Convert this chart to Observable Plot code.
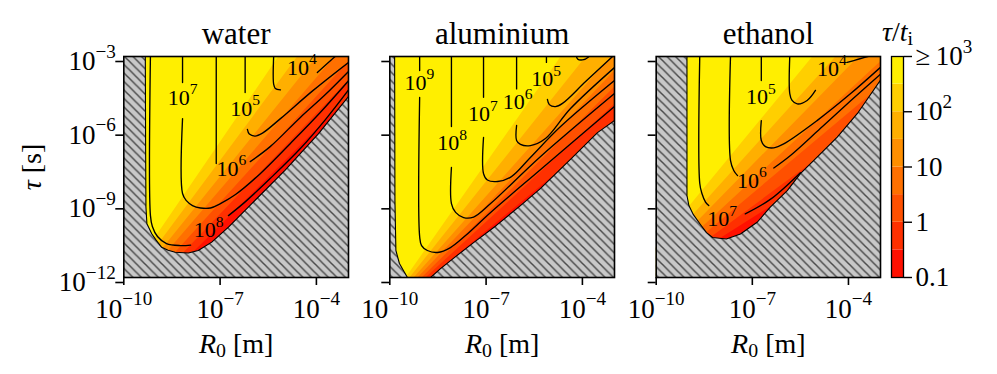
<!DOCTYPE html>
<html><head><meta charset="utf-8">
<script src="https://cdn.jsdelivr.net/npm/d3@7"></script>
<script src="https://cdn.jsdelivr.net/npm/@observablehq/plot@0.6"></script>
<style>
body{margin:0;background:#fff;}
#chart{position:relative;width:997px;height:374px;overflow:hidden;font-family:"Liberation Serif","Times New Roman",serif;}
#chart text{font-family:"Liberation Serif","Times New Roman",serif;}
</style></head><body><div id="chart"></div>
<script>
// ---------------- data (values are log10 R0 [m], log10 tau [s]) ----------------
const panelNames = ["water", "aluminium", "ethanol"];
const xDomain = [1e-10, 1e-3];
const yDomain = [1e-12, 1e-3];
const xTicks = [1e-10, 1e-7, 1e-4];
const yTicks = [1e-12, 1e-9, 1e-6, 1e-3];
// filled-contour levels of tau/t_i (half decades)
const levels = [0.1, 0.316, 1, 3.16, 10, 31.6, 100, 316, 1000];
const cbarTicks = [0.1, 1, 10, 100, 1000];
const cbarTickLabels = ["0.1", "1", "10", "10^2", "\u2265\u200910^3"];

// edges of the filled bands (level 10^-0.5 ... 10^2.5), each [bottom point, top point]
const waterBandEdges = [
  [[-8.11,-11.31],[-1.73,-3]], [[-8.39,-11.31],[-2.31,-3]], [[-8.64,-11.31],[-2.88,-3]],
  [[-8.90,-11.31],[-3.44,-3]], [[-9.11,-11.31],[-4.00,-3]], [[-9.32,-11.31],[-4.60,-3]],
  [[-9.53,-11.31],[-5.19,-3]]
];
const aluBandEdges = [
  [[-8.76,-12],[-0.44,-3]], [[-8.89,-12],[-1.41,-3]], [[-9.01,-12],[-2.06,-3]],
  [[-9.14,-12],[-2.59,-3]], [[-9.26,-12],[-3.12,-3]], [[-9.39,-12],[-3.90,-3]],
  [[-9.51,-12],[-4.68,-3]]
];
const ethBandEdges = [
  [[-8.62,-10.90],[0.92,-3]], [[-8.87,-10.90],[-0.67,-3]], [[-9.12,-10.90],[-1.91,-3]],
  [[-9.37,-10.90],[-2.85,-3]], [[-9.62,-10.90],[-3.69,-3]], [[-9.87,-10.90],[-4.41,-3]],
  [[-10.12,-10.90],[-5.13,-3]]
];

// edge of the valid (non-hatched) region
const waterBoundary = [[-9.33,-2.9],[-9.32,-6.83],[-9.31,-9.14],[-9.28,-9.81],[-9.13,-10.22],[-9.00,-10.47],[-8.82,-10.77],[-8.62,-10.89],[-8.40,-10.97],[-7.99,-11.00],[-7.68,-10.90],[-7.26,-10.56],[-6.74,-9.95],[-6.02,-9.00],[-4.98,-7.64],[-3.94,-6.15],[-2.95,-4.55]];
const aluBoundary = [[-9.85,-2.9],[-9.84,-8.87],[-9.81,-10.90],[-9.70,-11.43],[-9.54,-11.80],[-9.45,-12.0],[-9.39,-12.33],[-8.86,-12.33],[-8.73,-12.0],[-8.42,-11.64],[-7.95,-11.15],[-7.39,-10.58],[-6.68,-9.88],[-5.93,-9.07],[-5.31,-8.38],[-4.34,-7.15],[-3.53,-6.10],[-3.00,-5.61],[-2.94,-5.55]];
const ethBoundary = [[-9.04,-2.9],[-9.04,-8.66],[-8.98,-9.07],[-8.84,-9.44],[-8.62,-9.84],[-8.43,-10.17],[-8.24,-10.37],[-7.81,-10.43],[-7.37,-10.23],[-6.84,-9.74],[-6.44,-9.13],[-5.91,-8.46],[-5.50,-7.77],[-4.97,-7.09],[-4.35,-6.28],[-3.72,-5.32],[-3.01,-3.98],[-2.94,-3.86]];

// line contours: [label, segment, segment...]
const waterContours = [
  ["10^8", [[-9.17,-2.95],[-9.17,-9.48],[-9.11,-9.92],[-8.95,-10.33],[-8.67,-10.62],[-8.24,-10.70],[-7.92,-10.68]],
           [[-6.74,-9.48],[-6.21,-8.91],[-5.44,-7.97],[-4.50,-6.75],[-3.72,-5.57],[-2.94,-4.26]]],
  ["10^7", [[-8.17,-2.95],[-8.17,-4.06]],
           [[-8.17,-5.53],[-8.17,-8.58],[-8.05,-8.87],[-7.86,-9.07],[-7.61,-9.17],[-7.30,-9.17],[-6.99,-8.99],[-6.52,-8.62],[-5.75,-7.77],[-4.81,-6.54],[-3.88,-5.28],[-2.94,-3.90]]],
  ["10^6", [[-7.12,-2.95],[-7.12,-7.36]],
           [[-6.06,-7.28],[-5.44,-6.67],[-4.50,-5.48],[-3.72,-4.55],[-2.94,-3.53]]],
  ["10^5", [[-6.22,-2.95],[-6.22,-4.47]],
           [[-6.15,-5.97],[-6.09,-6.16],[-5.91,-6.24],[-5.68,-6.12],[-5.12,-5.53],[-4.10,-4.38],[-2.94,-3.18]]],
  ["10^4", [[-5.33,-2.95],[-5.33,-4.14],[-5.28,-4.30],[-5.12,-4.36]],
           [[-3.97,-3.65],[-3.38,-2.96],[-3.35,-2.93]]]
];
const aluContours = [
  ["10^9", [[-9.07,-2.95],[-9.07,-3.57]],
           [[-9.07,-4.67],[-9.07,-10.33],[-9.01,-10.70],[-8.83,-10.90],[-8.51,-10.98],[-8.11,-10.78],[-7.64,-10.29],[-6.86,-9.35],[-5.31,-7.61],[-2.94,-4.97]]],
  ["10^8", [[-8.08,-2.95],[-8.08,-5.85]],
           [[-8.08,-7.52],[-8.08,-8.99],[-7.95,-9.35],[-7.70,-9.56],[-7.39,-9.54],[-6.86,-8.99],[-5.31,-7.08],[-2.94,-4.44]]],
  ["10^7", [[-7.08,-2.95],[-7.08,-4.66]],
           [[-7.08,-6.30],[-7.08,-7.77],[-6.96,-8.03],[-6.64,-8.09],[-6.21,-7.89],[-5.62,-7.11],[-4.68,-5.85],[-2.94,-3.91]]],
  ["10^6", [[-6.05,-2.95],[-6.05,-4.32]],
           [[-6.05,-5.81],[-6.05,-6.42],[-5.93,-6.58],[-5.62,-6.63],[-5.15,-6.34],[-4.37,-5.12],[-2.94,-3.38]]],
  ["10^5", [[-5.12,-2.95],[-5.12,-3.24]],
           [[-5.09,-4.75],[-5.03,-4.96],[-4.84,-5.04],[-4.62,-4.91],[-3.90,-4.02],[-3.06,-3.0],[-2.94,-2.86]]],
  ["10^4", [[-4.20,-2.9],[-4.15,-3.10],[-4.00,-3.14],[-3.81,-3.02],[-3.75,-2.9]]]
];
const ethContours = [
  ["10^7", [[-8.64,-2.95],[-8.64,-8.17],[-8.57,-8.59],[-8.46,-8.93],[-8.36,-9.07]],
           [[-7.22,-9.41],[-6.44,-8.82],[-5.50,-7.73]]],
  ["10^6", [[-7.68,-2.95],[-7.68,-7.24],[-7.58,-7.64],[-7.46,-7.85]],
           [[-6.33,-7.54],[-5.81,-7.03],[-4.88,-5.93],[-3.94,-4.81],[-2.94,-3.65]]],
  ["10^5", [[-6.72,-2.95],[-6.72,-3.98]],
           [[-6.72,-5.61],[-6.72,-6.42],[-6.59,-6.67],[-6.33,-6.72],[-6.02,-6.56],[-4.98,-5.61],[-3.94,-4.52],[-2.94,-3.37]]],
  ["10^4", [[-5.83,-2.95],[-5.83,-4.52],[-5.76,-4.79],[-5.60,-4.93],[-5.29,-4.79],[-5.03,-4.38]],
           [[-4.04,-3.24],[-3.32,-2.96],[-3.28,-2.93]]]
];
// inline contour labels: [text, log10 R0, log10 tau]
const waterLabels = [["10^7",-8.17,-4.67],["10^5",-6.22,-5.12],["10^6",-6.65,-7.56],["10^8",-7.36,-10.05],["10^4",-4.45,-3.45]];
const aluLabels = [["10^9",-9.08,-4.06],["10^8",-8.06,-6.52],["10^7",-7.10,-5.34],["10^6",-6.02,-4.86],["10^5",-5.13,-3.91]];
const ethLabels = [["10^7",-7.94,-9.61],["10^6",-7.01,-8.05],["10^5",-6.73,-4.66],["10^4",-4.52,-3.49]];

// ---------------- styles ----------------
const bandColors = ["#ff1000","#ff3000","#ff5000","#ff7000","#ff8f00","#ffaf00","#ffcf00","#ffef00"];
const FONT = '"Liberation Serif","Times New Roman",serif';
const TICKFS = 27;
const svgStyle = {background: "transparent", overflow: "visible", fontFamily: FONT, position: "absolute", top: "0px"};

const fmtPow = d => {
  const e = Math.round(Math.log10(d));
  return "10^" + (e < 0 ? "\u2212" + (-e) : String(e));
};

function hatchDefs(id) {
  return () => {
    const w = 8.5;
    const d = d3.create("svg:defs");
    const p = d.append("pattern").attr("id", id).attr("patternUnits", "userSpaceOnUse")
      .attr("width", w).attr("height", w);
    p.append("rect").attr("width", w).attr("height", w).attr("fill", "#c8c8c8");
    p.append("path").attr("d", `M0,0L${w},${w}M-1,${w-1}L1,${w+1}M${w-1},-1L${w+1},1`)
      .attr("stroke", "#4a4a4a").attr("stroke-width", 1.5);
    return d.node();
  };
}

function buildPanel(idx, boundary, bands, contours, labels, left, width, mL, mR) {
  const lx0 = Math.log10(xDomain[0]), lx1 = Math.log10(xDomain[1]);
  const ly0 = Math.log10(yDomain[0]), ly1 = Math.log10(yDomain[1]);
  const farL = lx0 - 3, farR = lx1 + 6, farB = ly0 - 3, farT = ly1 + 3;
  const pt = ([a, b]) => ({x: 10 ** a, y: 10 ** b});
  const bandMarks = [];
  for (let i = bands.length - 1; i >= 0; --i) {
    const [b, t] = bands[i];
    const poly = [b, t, [t[0], farT], [farR, farT], [farR, farB], [b[0], farB]].map(pt);
    bandMarks.push(Plot.line(poly, {x: "x", y: "y", fill: bandColors[i], stroke: "none", clip: true}));
  }
  const first = boundary[0], last = boundary[boundary.length - 1];
  const hatchPoly = [...boundary, [farR, last[1]], [farR, farB], [farL, farB], [farL, first[1]]].map(pt);
  const contourRows = [];
  contours.forEach(([lab, ...segs]) => segs.forEach((seg, k) =>
    seg.forEach(p => contourRows.push({...pt(p), z: lab + "-" + k}))));
  const labelRows = labels.map(([t, a, b]) => ({...pt([a, b]), t}));
  const hid = "hatchpat" + idx;
  const svg = Plot.plot({
    width, height: 374, marginLeft: mL, marginRight: mR, marginTop: 56, marginBottom: 97,
    style: svgStyle,
    x: {type: "log", domain: xDomain, label: null},
    y: {type: "log", domain: yDomain, label: null},
    marks: [
      hatchDefs(hid),
      Plot.frame({fill: bandColors[7], stroke: "none"}),
      ...bandMarks,
      Plot.line(contourRows, {x: "x", y: "y", z: "z", stroke: "black", strokeWidth: 1.35, curve: "catmull-rom", clip: true}),
      Plot.line(hatchPoly, {x: "x", y: "y", fill: `url(#${hid})`, stroke: "none", clip: true}),
      Plot.line(boundary.map(pt), {x: "x", y: "y", stroke: "black", strokeWidth: 1.1, clip: true}),
      Plot.text(labelRows, {x: "x", y: "y", text: "t", fontSize: 22, fill: "black"}),
      Plot.axisX({ticks: xTicks, tickFormat: fmtPow, tickSize: 8, tickPadding: 13, fontSize: TICKFS, strokeWidth: 1.6, label: null}),
      Plot.axisY({ticks: yTicks, tickFormat: idx === 0 ? fmtPow : () => "", tickSize: 8, tickPadding: 0, dy: 5, fontSize: TICKFS, strokeWidth: 1.6, label: null}),
      Plot.frame({stroke: "black", strokeWidth: 1.6}),
      Plot.text([panelNames[idx]], {frameAnchor: "top", dy: -12.5, lineAnchor: "bottom", fontSize: 31, text: d => d}),
      Plot.text(["R0 [m]"], {frameAnchor: "bottom", dy: 75, lineAnchor: "bottom", fontSize: 28, text: d => d}),
      ...(idx === 0 ? [Plot.text(["\u03c4 [s]"], {frameAnchor: "left", dx: -92, rotate: -90, textAnchor: "middle", fontSize: 28, text: d => d})] : [])
    ]
  });
  svg.style.left = left + "px";
  return svg;
}

function buildColorbar() {
  const svg = Plot.plot({
    width: 117, height: 374, marginLeft: 11, marginRight: 94, marginTop: 56, marginBottom: 97,
    style: svgStyle,
    y: {type: "log", domain: [levels[0], levels[levels.length - 1]], label: null},
    marks: [
      ...bandColors.map((c, i) => Plot.rect([{lo: levels[i], hi: levels[i + 1]}], {y1: "lo", y2: "hi", fill: c})),
      Plot.axisY({anchor: "right", ticks: cbarTicks, tickFormat: d => cbarTickLabels[cbarTicks.indexOf(d)], tickSize: 8, tickPadding: 4, fontSize: TICKFS, strokeWidth: 1.4, label: null}),
      Plot.frame({stroke: "black", strokeWidth: 1.3}),
      Plot.text(["\u03c4/ti"], {frameAnchor: "top", dy: -16, lineAnchor: "bottom", fontSize: 28, text: d => d})
    ]
  });
  svg.style.left = "880px";
  return svg;
}

function richify(svg) {
  svg.querySelectorAll("text").forEach(el => {
    el.style.fontFamily = FONT;
    el.style.fontVariant = "normal";
    const s = el.textContent;
    let parts = null;
    if (s === "R0 [m]") parts = [{t: "R", i: 1}, {t: "0", sub: 1}, {t: " [m]"}];
    else if (s === "\u03c4 [s]") parts = [{t: "\u03c4", i: 1}, {t: " [s]"}];
    else if (s === "\u03c4/ti") parts = [{t: "\u03c4", i: 1}, {t: "/"}, {t: "t", i: 1}, {t: "i", sub: 1}];
    else {
      const m = s.match(/^(.*)\^(.+)$/);
      if (m) parts = [{t: m[1]}, {t: m[2], sup: 1}];
    }
    if (!parts) return;
    const F = parseFloat(getComputedStyle(el).fontSize) || 25;
    while (el.firstChild) el.removeChild(el.firstChild);
    let cur = 0;
    for (const p of parts) {
      const ts = document.createElementNS("http://www.w3.org/2000/svg", "tspan");
      ts.textContent = p.t;
      const target = p.sup ? -0.46 * F : p.sub ? 0.16 * F : 0;
      if (target !== cur) ts.setAttribute("dy", (target - cur).toFixed(2));
      cur = target;
      if (p.sup || p.sub) ts.setAttribute("font-size", (0.71 * F).toFixed(2));
      if (p.i) ts.setAttribute("font-style", "italic");
      el.appendChild(ts);
    }
  });
}

const chart = document.getElementById("chart");
const svgs = [
  buildPanel(0, waterBoundary, waterBandEdges, waterContours, waterLabels, 0, 360, 123.3, 12),
  buildPanel(1, aluBoundary, aluBandEdges, aluContours, aluLabels, 370, 260, 19.3, 16),
  buildPanel(2, ethBoundary, ethBandEdges, ethContours, ethLabels, 636, 260, 19.7, 16),
  buildColorbar()
];
svgs.forEach(s => chart.appendChild(s));
svgs.forEach(richify);
</script></body></html>
